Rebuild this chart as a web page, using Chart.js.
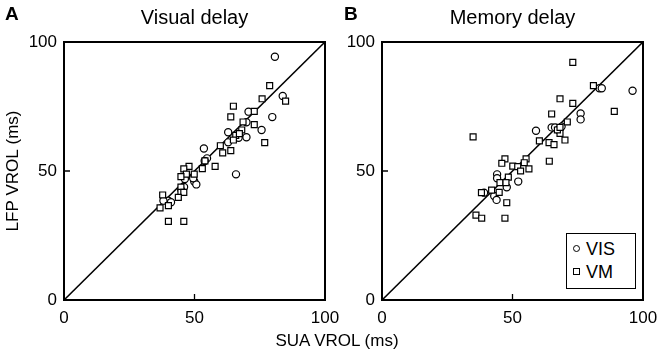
<!DOCTYPE html>
<html lang="en">
<head>
<meta charset="UTF-8">
<title>SUA vs LFP VROL</title>
<script src="https://cdn.jsdelivr.net/npm/chart.js"></script>
<style>
  body { margin: 0; background: #fff; font-family: "Liberation Sans", Arial, sans-serif; }
  #wrap { position: relative; width: 659px; height: 359px; overflow: hidden; }
  canvas { position: absolute; top: 0; }
  .txt { position: absolute; color: #000; white-space: nowrap; }
  #legend { position: absolute; left: 566px; top: 233px; width: 68px; height: 54px;
            border: 1.5px solid #000; background: #fff; }
  .row { position: absolute; left: 6px; font-size: 18px; line-height: 20px; }
  .dot { display: inline-block; width: 5px; height: 5px; border: 1px solid #000; margin-right: 6px; vertical-align: 3px; }
</style>
</head>
<body>
<div id="wrap">
  <canvas id="chartA" width="349" height="359" style="left:0"></canvas>
  <canvas id="chartB" width="337" height="359" style="left:330px"></canvas>
  <div class="txt" style="left:5px;top:3px;font-size:19px;font-weight:bold">A</div>
  <div class="txt" style="left:344px;top:3px;font-size:19px;font-weight:bold">B</div>
  <div class="txt" id="xlab" style="left:0;width:674px;text-align:center;top:331px;font-size:17px">SUA VROL (ms)</div>
  <div id="legend">
    <div class="row" style="top:5px"><span class="dot" style="border-radius:50%"></span>VIS</div>
    <div class="row" style="top:28px"><span class="dot"></span>VM</div>
  </div>
</div>

<script>
// axis settings
var axisMin = 0;
var axisMax = 100;
var tickStep = 50;
var panelTitles = ['Visual delay', 'Memory delay'];
var yTitle = 'LFP VROL (ms)';

// unity line
var diagonal = [[0, 0], [100, 100]];

// panel A: visual delay  [SUA, LFP]
var visA = [[80.8, 94.3], [83.8, 79.1], [79.8, 70.9], [75.7, 65.9], [70.7, 73.0], [69.9, 68.9],
            [69.9, 63.1], [66.9, 62.9], [62.9, 65.0], [62.9, 61.1], [65.9, 48.7], [53.6, 58.7],
            [54.8, 54.9], [53.9, 53.9], [49.9, 45.9], [50.7, 44.8], [46.3, 46.9], [49.5, 47.2],
            [46.0, 43.8], [45.0, 42.5], [40.0, 38.5], [38.1, 38.5], [41.0, 37.9]];
var vmA = [[78.8, 83.1], [75.9, 78.0], [84.9, 77.1], [64.9, 75.1], [72.9, 73.1], [63.9, 71.0],
           [68.6, 69.0], [72.9, 68.0], [68.1, 65.9], [65.8, 63.8], [64.9, 62.0], [76.9, 61.0],
           [59.9, 59.8], [63.9, 57.9], [60.8, 57.0], [57.9, 51.8], [53.0, 50.9], [47.9, 51.8],
           [45.9, 50.8], [46.9, 48.8], [49.9, 48.8], [44.8, 47.8], [44.8, 43.8], [44.8, 41.7],
           [45.9, 41.7], [43.8, 39.8], [37.8, 40.7], [40.0, 36.6], [36.8, 35.7], [40.0, 30.5],
           [45.9, 30.5], [67.2, 64.5], [54.0, 53.9]];

// panel B: memory delay
var visB = [[96.0, 81.1], [83.3, 82.1], [84.2, 82.1], [76.1, 72.3], [76.1, 70.0], [59.0, 65.6],
            [65.0, 66.9], [66.3, 66.9], [68.8, 67.2], [44.1, 48.7], [44.1, 47.2], [52.2, 45.9],
            [47.8, 43.7], [43.0, 40.3], [43.9, 38.8], [39.1, 41.6], [67.5, 66.0]];
var vmB = [[73.1, 92.1], [81.0, 83.1], [68.2, 78.0], [73.1, 76.2], [89.0, 73.1], [65.0, 72.1],
           [71.0, 69.0], [34.9, 63.2], [60.3, 61.7], [64.0, 61.0], [65.9, 60.2], [70.1, 62.0],
           [68.2, 64.6], [67.2, 65.9], [68.2, 66.9], [64.1, 53.8], [47.1, 54.7], [45.9, 53.0],
           [55.2, 54.7], [54.5, 53.2], [50.1, 51.9], [52.0, 51.7], [56.3, 50.8], [53.1, 50.0],
           [48.4, 47.6], [45.2, 45.5], [47.5, 45.5], [44.9, 41.7], [42.0, 42.6], [38.1, 41.6],
           [47.8, 37.7], [36.0, 32.9], [38.2, 31.7], [47.1, 31.7]];

function toXY(arr) {
    return arr.map(function (p) { return { x: p[0], y: p[1] }; });
}

// frame around the plot and inward tick marks
var framePlugin = {
    id: 'frame',
    afterDraw: function (chart) {
        var ctx = chart.ctx, a = chart.chartArea;
        var xs = chart.scales.x, ys = chart.scales.y;
        ctx.save();
        ctx.strokeStyle = '#000';
        ctx.lineWidth = 2;
        ctx.strokeRect(a.left, a.top, a.right - a.left, a.bottom - a.top);
        ctx.lineWidth = 1.3;
        ctx.beginPath();
        xs.ticks.forEach(function (t) {
            var px = xs.getPixelForValue(t.value);
            ctx.moveTo(px, a.bottom);
            ctx.lineTo(px, a.bottom - 6);
        });
        ys.ticks.forEach(function (t) {
            var py = ys.getPixelForValue(t.value);
            ctx.moveTo(a.left, py);
            ctx.lineTo(a.left + 6, py);
        });
        ctx.stroke();
        ctx.restore();
    }
};

function makeChart(id, title, vis, vm, yAxisWidth, rightPad, showYTitle) {
    var ctx = document.getElementById(id).getContext('2d');
    return new Chart(ctx, {
        type: 'scatter',
        data: {
            datasets: [{
                label: 'VIS',
                data: toXY(vis),
                pointStyle: 'circle',
                pointRadius: 3.6,
                borderColor: '#000',
                backgroundColor: '#fff',
                borderWidth: 1.2,
                order: 1
            }, {
                label: 'VM',
                data: toXY(vm),
                pointStyle: 'rect',
                pointRadius: 4.2,
                borderColor: '#000',
                backgroundColor: '#fff',
                borderWidth: 1.2,
                order: 0
            }, {
                label: 'unity',
                data: toXY(diagonal),
                showLine: true,
                pointRadius: 0,
                borderColor: '#000',
                borderWidth: 1.6,
                order: 3
            }]
        },
        options: {
            responsive: false,
            animation: false,
            layout: { padding: { left: 0, right: rightPad, top: 0, bottom: 0 } },
            plugins: {
                legend: { display: false },
                tooltip: { enabled: false }
            },
            scales: {
                x: {
                    type: 'linear',
                    position: 'bottom',
                    min: axisMin,
                    max: axisMax,
                    grid: { display: false, drawTicks: false },
                    border: { display: false },
                    ticks: { stepSize: tickStep, color: '#000', padding: 8,
                             font: { family: 'Liberation Sans', size: 17 } },
                    afterFit: function (s) { s.height = 59; }
                },
                top: {
                    type: 'linear',
                    position: 'top',
                    min: axisMin,
                    max: axisMax,
                    grid: { display: false, drawTicks: false },
                    border: { display: false },
                    ticks: { display: false },
                    title: { display: true, text: title, color: '#000', padding: { top: 6, bottom: 0 },
                             font: { family: 'Liberation Sans', size: 20 } },
                    afterFit: function (s) { s.height = 42; }
                },
                y: {
                    type: 'linear',
                    min: axisMin,
                    max: axisMax,
                    grid: { display: false, drawTicks: false },
                    border: { display: false },
                    ticks: { stepSize: tickStep, color: '#000', padding: 7,
                             font: { family: 'Liberation Sans', size: 17 } },
                    title: { display: showYTitle, text: yTitle, color: '#000', padding: { top: 3, bottom: 0 },
                             font: { family: 'Liberation Sans', size: 17 } },
                    afterFit: function (s) { s.width = yAxisWidth; }
                }
            }
        },
        plugins: [framePlugin]
    });
}

makeChart('chartA', panelTitles[0], visA, vmA, 64, 24, true);
makeChart('chartB', panelTitles[1], visB, vmB, 52, 24, false);
</script>
</body>
</html>
